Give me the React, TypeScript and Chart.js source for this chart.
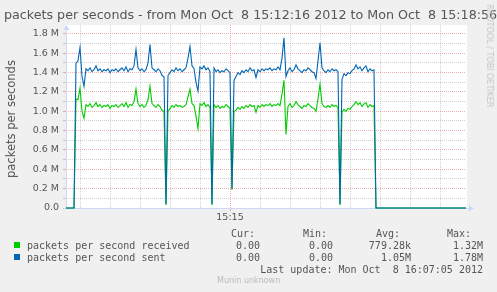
import React, { useEffect, useRef } from "react";
import { Chart, registerables } from "chart.js";

Chart.register(...registerables);

// ---- data (values in millions of packets per second) ----
// samples every STEP_SECONDS starting at 15:12:16
const STEP_SECONDS = 2;
const RANGE_SECONDS = 400; // 15:12:16 -> 15:18:56

const sentValues = [
  0, 0, 0, 0, 0, 1.5, 1.52, 1.66, 1.36, 1.26,
  1.44, 1.42, 1.45, 1.41, 1.43, 1.47, 1.42, 1.44, 1.41, 1.43,
  1.42, 1.44, 1.4, 1.43, 1.42, 1.44, 1.41, 1.43, 1.45, 1.42,
  1.46, 1.41, 1.44, 1.43, 1.47, 1.64, 1.45, 1.42, 1.44, 1.41,
  1.43, 1.5, 1.69, 1.45, 1.43, 1.41, 1.44, 1.42, 1.37, 1.36,
  0.04, 1.37, 1.4, 1.43, 1.41, 1.45, 1.42, 1.44, 1.41, 1.43,
  1.45, 1.55, 1.67, 1.47, 1.44, 1.3, 1.21, 1.46, 1.44, 1.47,
  1.43, 1.45, 1.41, 0.04, 1.45, 1.41, 1.43, 1.4, 1.42, 1.41,
  1.44, 1.42, 1.4, 0.2, 1.32, 1.36, 1.4, 1.38, 1.42, 1.4,
  1.43, 1.41, 1.45, 1.42, 1.43, 1.35, 1.43, 1.41, 1.44, 1.42,
  1.44, 1.43, 1.45, 1.42, 1.44, 1.43, 1.46, 1.43, 1.55, 1.76,
  1.36, 1.42, 1.45, 1.41, 1.43, 1.48, 1.44, 1.42, 1.4, 1.43,
  1.42, 1.45, 1.43, 1.41, 1.4, 1.34, 1.52, 1.71, 1.45, 1.42,
  1.4, 1.43, 1.41, 1.44, 1.42, 1.43, 1.41, 0.04, 1.33, 1.39,
  1.37, 1.4, 1.39, 1.42, 1.44, 1.48, 1.44, 1.46, 1.42, 1.45,
  1.47, 1.41, 1.44, 1.42, 1.43, 0, 0, 0, 0, 0,
  0, 0, 0, 0, 0, 0, 0, 0, 0, 0,
  0, 0, 0, 0, 0, 0, 0, 0, 0, 0,
  0, 0, 0, 0, 0, 0, 0, 0, 0, 0,
  0, 0, 0, 0, 0, 0, 0, 0, 0, 0,
  0,
];

const receivedValues = [
  0, 0, 0, 0, 0, 1.13, 1.12, 1.24, 1.0, 0.93,
  1.07, 1.05, 1.08, 1.04, 1.06, 1.09, 1.05, 1.07, 1.04, 1.06,
  1.05, 1.07, 1.03, 1.06, 1.05, 1.07, 1.04, 1.06, 1.08, 1.05,
  1.09, 1.04, 1.07, 1.06, 1.1, 1.23, 1.08, 1.05, 1.07, 1.04,
  1.06, 1.12, 1.26, 1.08, 1.06, 1.04, 1.07, 1.05, 1.01, 1.0,
  0.03, 1.0, 1.03, 1.06, 1.04, 1.07, 1.05, 1.06, 1.04, 1.05,
  1.07, 1.15, 1.23, 1.08, 1.06, 0.95, 0.82, 1.08, 1.06, 1.09,
  1.05, 1.07, 1.04, 0.03, 1.07, 1.04, 1.06, 1.03, 1.05, 1.04,
  1.07, 1.05, 1.03, 0.19, 1.0, 1.01, 1.04, 1.02, 1.05, 1.03,
  1.06, 1.04, 1.07, 1.05, 1.06, 0.99, 1.06, 1.04, 1.07, 1.05,
  1.07, 1.06, 1.08, 1.05, 1.07, 1.06, 1.08, 1.06, 1.18, 1.32,
  0.76, 1.05, 1.08, 1.04, 1.06, 1.1, 1.07, 1.05, 1.03, 1.06,
  1.05, 1.08, 1.06, 1.04, 1.03, 1.0, 1.13, 1.28, 1.08, 1.05,
  1.04, 1.06, 1.04, 1.07, 1.05, 1.06, 1.04, 0.03, 0.99, 1.02,
  1.0, 1.03, 1.02, 1.05, 1.07, 1.1, 1.07, 1.09, 1.05, 1.08,
  1.09, 1.04, 1.07, 1.05, 1.06, 0, 0, 0, 0, 0,
  0, 0, 0, 0, 0, 0, 0, 0, 0, 0,
  0, 0, 0, 0, 0, 0, 0, 0, 0, 0,
  0, 0, 0, 0, 0, 0, 0, 0, 0, 0,
  0, 0, 0, 0, 0, 0, 0, 0, 0, 0,
  0,
];

// vertical grid every 30 s (seconds since 15:12:16), label only at 15:15
const xGridSeconds = [14, 44, 74, 104, 134, 164, 194, 224, 254, 284, 314, 344, 374];
const xTickLabels = ["", "", "", "", "", "15:15", "", "", "", "", "", "", ""];

const yGridValues = [0, 0.1, 0.2, 0.3, 0.4, 0.5, 0.6, 0.7, 0.8, 0.9, 1.0, 1.1, 1.2, 1.3, 1.4, 1.5, 1.6, 1.7, 1.8];
const yTickLabels = ["0.0", "", "0.2 M", "", "0.4 M", "", "0.6 M", "", "0.8 M", "", "1.0 M", "", "1.2 M", "", "1.4 M", "", "1.6 M", "", "1.8 M"];
const Y_MAX = 1.893;

const legendNames = ["packets per second received", "packets per second sent"];
const legendColors = ["#00CC00", "#0066B3"];
const curValues = ["0.00", "0.00"];
const minValues = ["0.00", "0.00"];
const avgValues = ["779.28k", "1.05M"];
const maxValues = ["1.32M", "1.78M"];

const TITLE = "packets per seconds - from Mon Oct  8 15:12:16 2012 to Mon Oct  8 15:18:56";
const Y_TITLE = "packets per seconds";
const LAST_UPDATE = "Last update: Mon Oct  8 16:07:05 2012";
const WATERMARK = "Munin unknown";
const CREDIT = "RRDTOOL / TOBI OETIKER";

// ---- styles ----
const W = 497;
const H = 292;
const TEXT = "#555555";
const AXIS = "#CFD6F8";
const GRID_MINOR = "rgba(143,143,143,0.42)";
const GRID_MAJOR = "rgba(222,79,79,0.45)";
const SANS = "'DejaVu Sans', sans-serif";
const MONO = "'DejaVu Sans Mono', monospace";

const rrdPlugin = {
  id: "rrdDecor",
  beforeDraw(chart: any) {
    const { ctx, chartArea } = chart;
    const { left, right, top, bottom } = chartArea;
    ctx.save();
    ctx.fillStyle = "#FFFFFF";
    ctx.fillRect(left, top, right - left + 1, bottom - top + 1);
    ctx.restore();
  },
  beforeDatasetsDraw(chart: any) {
    const { ctx, chartArea } = chart;
    const { left, right, top, bottom } = chartArea;
    const y = Math.round(bottom) + 0.5;
    const x = Math.round(left) + 0.5;
    ctx.save();
    ctx.strokeStyle = AXIS;
    ctx.fillStyle = AXIS;
    ctx.lineWidth = 1;
    ctx.beginPath();
    ctx.moveTo(left - 2, y);
    ctx.lineTo(right + 4, y);
    ctx.moveTo(x, bottom + 2);
    ctx.lineTo(x, top + 2);
    ctx.stroke();
    ctx.beginPath();
    ctx.moveTo(right + 3, y - 3);
    ctx.lineTo(right + 8, y);
    ctx.lineTo(right + 3, y + 3);
    ctx.closePath();
    ctx.fill();
    ctx.beginPath();
    ctx.moveTo(x - 3, top + 5);
    ctx.lineTo(x, top);
    ctx.lineTo(x + 3, top + 5);
    ctx.closePath();
    ctx.fill();
    ctx.restore();
  },
};

type TxtProps = {
  left?: number;
  right?: number;
  cy: number;
  size: number;
  family: string;
  color?: string;
  children: React.ReactNode;
};

function Txt({ left, right, cy, size, family, color = TEXT, children }: TxtProps) {
  const lh = Math.round(size * 1.3);
  const style: React.CSSProperties = {
    position: "absolute",
    top: cy - lh / 2,
    lineHeight: `${lh}px`,
    fontSize: size,
    fontFamily: family,
    color,
    whiteSpace: "pre",
  };
  if (left !== undefined) style.left = left;
  if (right !== undefined) style.right = W - right;
  return <div style={style}>{children}</div>;
}

export default function App() {
  const canvasRef = useRef<HTMLCanvasElement | null>(null);

  useEffect(() => {
    const canvas = canvasRef.current;
    if (!canvas) return;
    const toPoints = (vals: number[]) => vals.map((v, i) => ({ x: i * STEP_SECONDS, y: v }));
    const chart = new Chart(canvas, {
      type: "line",
      data: {
        datasets: [
          {
            label: legendNames[1],
            data: toPoints(sentValues),
            borderColor: legendColors[1],
            backgroundColor: legendColors[1],
            borderWidth: 1.1,
            pointRadius: 0,
            tension: 0,
            order: 0,
            clip: 6,
          } as any,
          {
            label: legendNames[0],
            data: toPoints(receivedValues),
            borderColor: legendColors[0],
            backgroundColor: legendColors[0],
            borderWidth: 1.1,
            pointRadius: 0,
            tension: 0,
            order: 1,
            clip: 6,
          } as any,
        ],
      },
      options: {
        animation: false,
        responsive: false,
        events: [],
        layout: { padding: { left: 0, right: 31, top: 25, bottom: 0 } },
        plugins: {
          legend: { display: false },
          tooltip: { enabled: false },
          title: { display: false },
        },
        scales: {
          x: {
            type: "linear",
            min: 0,
            max: RANGE_SECONDS,
            afterBuildTicks: (s: any) => {
              s.ticks = xGridSeconds.map((v) => ({ value: v }));
            },
            afterFit: (s: any) => {
              s.height = H - 208;
            },
            border: { display: false, dash: [1, 1] },
            grid: {
              color: (c: any) => (xTickLabels[c.index] ? GRID_MAJOR : GRID_MINOR),
              tickColor: (c: any) => (xTickLabels[c.index] ? GRID_MAJOR : "rgba(0,0,0,0)"),
              tickLength: 3,
              lineWidth: 1,
            },
            ticks: {
              autoSkip: false,
              maxRotation: 0,
              padding: 1,
              color: TEXT,
              font: { family: SANS, size: 9.5 },
              callback: (_v: any, i: number) => xTickLabels[i],
            },
          },
          y: {
            type: "linear",
            min: 0,
            max: Y_MAX,
            afterBuildTicks: (s: any) => {
              s.ticks = yGridValues.map((v) => ({ value: v }));
            },
            afterFit: (s: any) => {
              s.width = 66;
            },
            border: { display: false, dash: [1, 1] },
            grid: {
              color: (c: any) => (yTickLabels[c.index] ? GRID_MAJOR : GRID_MINOR),
              tickLength: 3,
              lineWidth: 1,
            },
            ticks: {
              autoSkip: false,
              padding: 4,
              color: TEXT,
              font: { family: SANS, size: 9.5 },
              callback: (_v: any, i: number) => yTickLabels[i],
            },
          },
        },
      },
      plugins: [rrdPlugin],
    } as any);
    return () => chart.destroy();
  }, []);

  return (
    <div
      style={{
        position: "absolute",
        left: 0,
        top: 0,
        width: W,
        height: H,
        background: "#F0F0F0",
        overflow: "hidden",
      }}
    >
      <canvas ref={canvasRef} width={W} height={H} style={{ position: "absolute", left: 0, top: 0, width: W, height: H }} />
      <Txt left={4} cy={14} size={12.7} family={SANS}>{TITLE}</Txt>
      <div
        style={{
          position: "absolute",
          left: 11,
          top: 119,
          transform: "translate(-50%, -50%) rotate(-90deg)",
          fontFamily: SANS,
          fontSize: 11.5,
          color: TEXT,
          whiteSpace: "pre",
          lineHeight: "14px",
        }}
      >
        {Y_TITLE}
      </div>
      <div
        style={{
          position: "absolute",
          left: 489,
          top: 56,
          transform: "translate(-50%, -50%) rotate(90deg)",
          fontFamily: SANS,
          fontSize: 8,
          color: "#C4C4C4",
          whiteSpace: "pre",
          lineHeight: "10px",
        }}
      >
        {CREDIT}
      </div>
      <Txt left={231} cy={233} size={10} family={MONO}>Cur:</Txt>
      <Txt left={303} cy={233} size={10} family={MONO}>Min:</Txt>
      <Txt left={376} cy={233} size={10} family={MONO}>Avg:</Txt>
      <Txt left={447} cy={233} size={10} family={MONO}>Max:</Txt>
      {legendNames.map((name, i) => {
        const cy = 245 + i * 12;
        return (
          <React.Fragment key={name}>
            <div
              style={{
                position: "absolute",
                left: 14,
                top: cy - 3,
                width: 6,
                height: 6,
                background: legendColors[i],
              }}
            />
            <Txt left={27} cy={cy} size={10} family={MONO}>{name}</Txt>
            <Txt right={260} cy={cy} size={10} family={MONO}>{curValues[i]}</Txt>
            <Txt right={333} cy={cy} size={10} family={MONO}>{minValues[i]}</Txt>
            <Txt right={411} cy={cy} size={10} family={MONO}>{avgValues[i]}</Txt>
            <Txt right={483} cy={cy} size={10} family={MONO}>{maxValues[i]}</Txt>
          </React.Fragment>
        );
      })}
      <Txt right={483} cy={269} size={10} family={MONO}>{LAST_UPDATE}</Txt>
      <Txt left={217} cy={281} size={8} family={SANS} color="#BBBBBB">{WATERMARK}</Txt>
    </div>
  );
}
